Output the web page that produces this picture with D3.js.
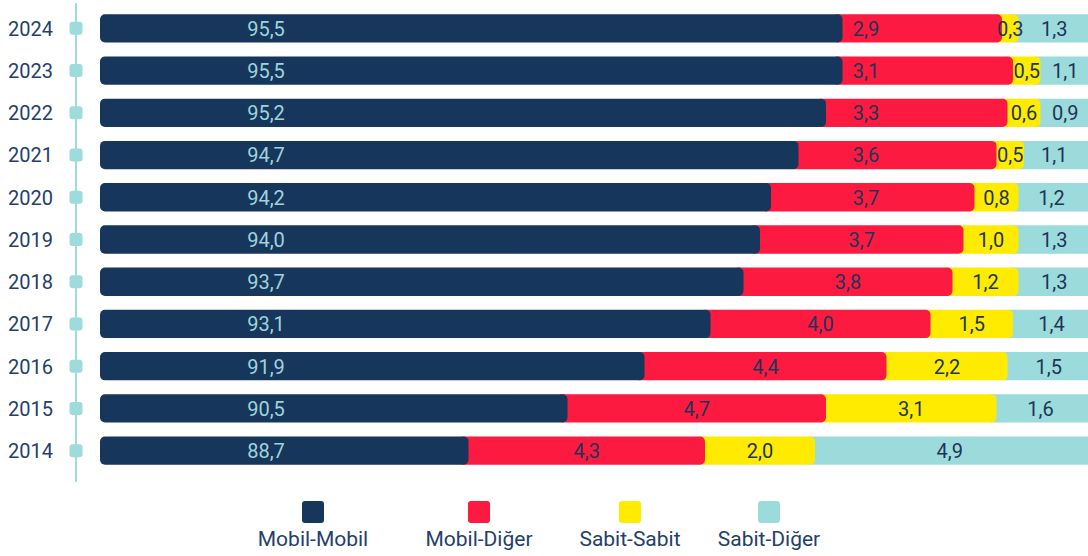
<!DOCTYPE html>
<html>
<head>
<meta charset="utf-8">
<script src="https://cdn.jsdelivr.net/npm/d3@7"></script>
<style>
    html, body { margin: 0; padding: 0; background: #fff; }
    svg { display: block; font-family: Roboto, "DejaVu Sans", sans-serif; }
</style>
</head>
<body>
<div id="chart"></div>
<script>

// Data

const years = ["2024", "2023", "2022", "2021", "2020", "2019", "2018", "2017", "2016", "2015", "2014"];
const mobilMobil = [95.5, 95.5, 95.2, 94.7, 94.2, 94.0, 93.7, 93.1, 91.9, 90.5, 88.7];
const mobilDiger = [2.9, 3.1, 3.3, 3.6, 3.7, 3.7, 3.8, 4.0, 4.4, 4.7, 4.3];
const sabitSabit = [0.3, 0.5, 0.6, 0.5, 0.8, 1.0, 1.2, 1.5, 2.2, 3.1, 2.0];
const sabitDiger = [1.3, 1.1, 0.9, 1.1, 1.2, 1.3, 1.3, 1.4, 1.5, 1.6, 4.9];
const seriesNames = ["Mobil-Mobil", "Mobil-Diğer", "Sabit-Sabit", "Sabit-Diğer"];

// Configure

const dimensions = { width: 1088, height: 556 };

const design = {
    colors: ["#17365c", "#fc1a40", "#ffeb00", "#9cdbdc"],
    labelColors: ["#9fd4dd", "#1d3557", "#1d3557", "#1d3557"],
    axisColor: "#9edbdc",
    textColor: "#24406a",
    radius: 5,
    overlap: 10,
};

const rows = years.map((year, i) => ({
    year: year,
    "Mobil-Mobil": mobilMobil[i],
    "Mobil-Diğer": mobilDiger[i],
    "Sabit-Sabit": sabitSabit[i],
    "Sabit-Diğer": sabitDiger[i],
}));

const stacked = d3.stack().keys(seriesNames)(rows);

// Create graph

const graph = d3.select("#chart").append("svg")
    .attr("width", dimensions.width)
    .attr("height", dimensions.height);

// Scales (axis starts at 82, as in the original)

const xScale = d3.scaleLinear()
    .domain([82, 100])
    .range([100, 1090])
    .clamp(true);

const yScale = d3.scaleBand()
    .domain(years)
    .range([7, 472])
    .paddingInner(0.33)
    .paddingOuter(0.17);

// Left axis line and markers

graph.append("line")
    .attr("x1", 76).attr("x2", 76)
    .attr("y1", 3).attr("y2", 482)
    .attr("stroke", design.axisColor)
    .attr("stroke-width", 2);

graph.selectAll(".marker").data(years).enter()
    .append("rect")
    .attr("class", "marker")
    .attr("x", 69.5)
    .attr("y", d => yScale(d) + yScale.bandwidth() / 2 - 6.5)
    .attr("width", 13)
    .attr("height", 13)
    .attr("rx", 3)
    .attr("fill", design.axisColor);

graph.selectAll(".year").data(years).enter()
    .append("text")
    .attr("class", "year")
    .attr("x", 53)
    .attr("y", d => yScale(d) + yScale.bandwidth() / 2)
    .attr("dy", "0.37em")
    .attr("text-anchor", "end")
    .attr("font-size", 20)
    .attr("fill", design.textColor)
    .text(d => d);

// Bars (drawn back to front so each rounded end sits over the next one)

const layers = graph.selectAll(".layer")
    .data(stacked.slice().reverse())
    .enter()
    .append("g")
    .attr("class", "layer");

layers.each(function(series) {
    const k = seriesNames.indexOf(series.key);
    d3.select(this).selectAll("rect").data(series).enter()
        .append("rect")
        .attr("x", d => xScale(d[0]) - (k > 0 ? design.overlap : 0))
        .attr("y", d => yScale(d.data.year))
        .attr("width", d => xScale(d[1]) - xScale(d[0]) + (k > 0 ? design.overlap : 0) + (k === 3 ? 12 : 0))
        .attr("height", yScale.bandwidth())
        .attr("rx", design.radius)
        .attr("fill", design.colors[k]);
});

// Labels

const fmt = v => d3.format(".1f")(v).replace(".", ",");

function labelX(k, d) {
    if (k === 0) return 266;
    const mid = (xScale(d[0]) + xScale(d[1])) / 2;
    if (k === 1) return Math.min(mid, 866);
    return mid;
}

stacked.forEach((series, k) => {
    graph.append("g").selectAll("text").data(series).enter()
        .append("text")
        .attr("x", d => labelX(k, d))
        .attr("y", d => yScale(d.data.year) + yScale.bandwidth() / 2)
        .attr("dy", "0.37em")
        .attr("text-anchor", "middle")
        .attr("font-size", 20)
        .attr("fill", design.labelColors[k])
        .text(d => fmt(d[1] - d[0]));
});

// Legend

const legendX = [313, 479, 630, 769];

const legend = graph.selectAll(".legend").data(seriesNames).enter()
    .append("g")
    .attr("class", "legend")
    .attr("transform", (d, i) => "translate(" + legendX[i] + ", 0)");

legend.append("rect")
    .attr("x", -11)
    .attr("y", 501)
    .attr("width", 22)
    .attr("height", 22)
    .attr("rx", 3)
    .attr("fill", (d, i) => design.colors[i]);

legend.append("text")
    .attr("y", 546)
    .attr("text-anchor", "middle")
    .attr("font-size", 21)
    .attr("fill", design.textColor)
    .text(d => d);

</script>
</body>
</html>
